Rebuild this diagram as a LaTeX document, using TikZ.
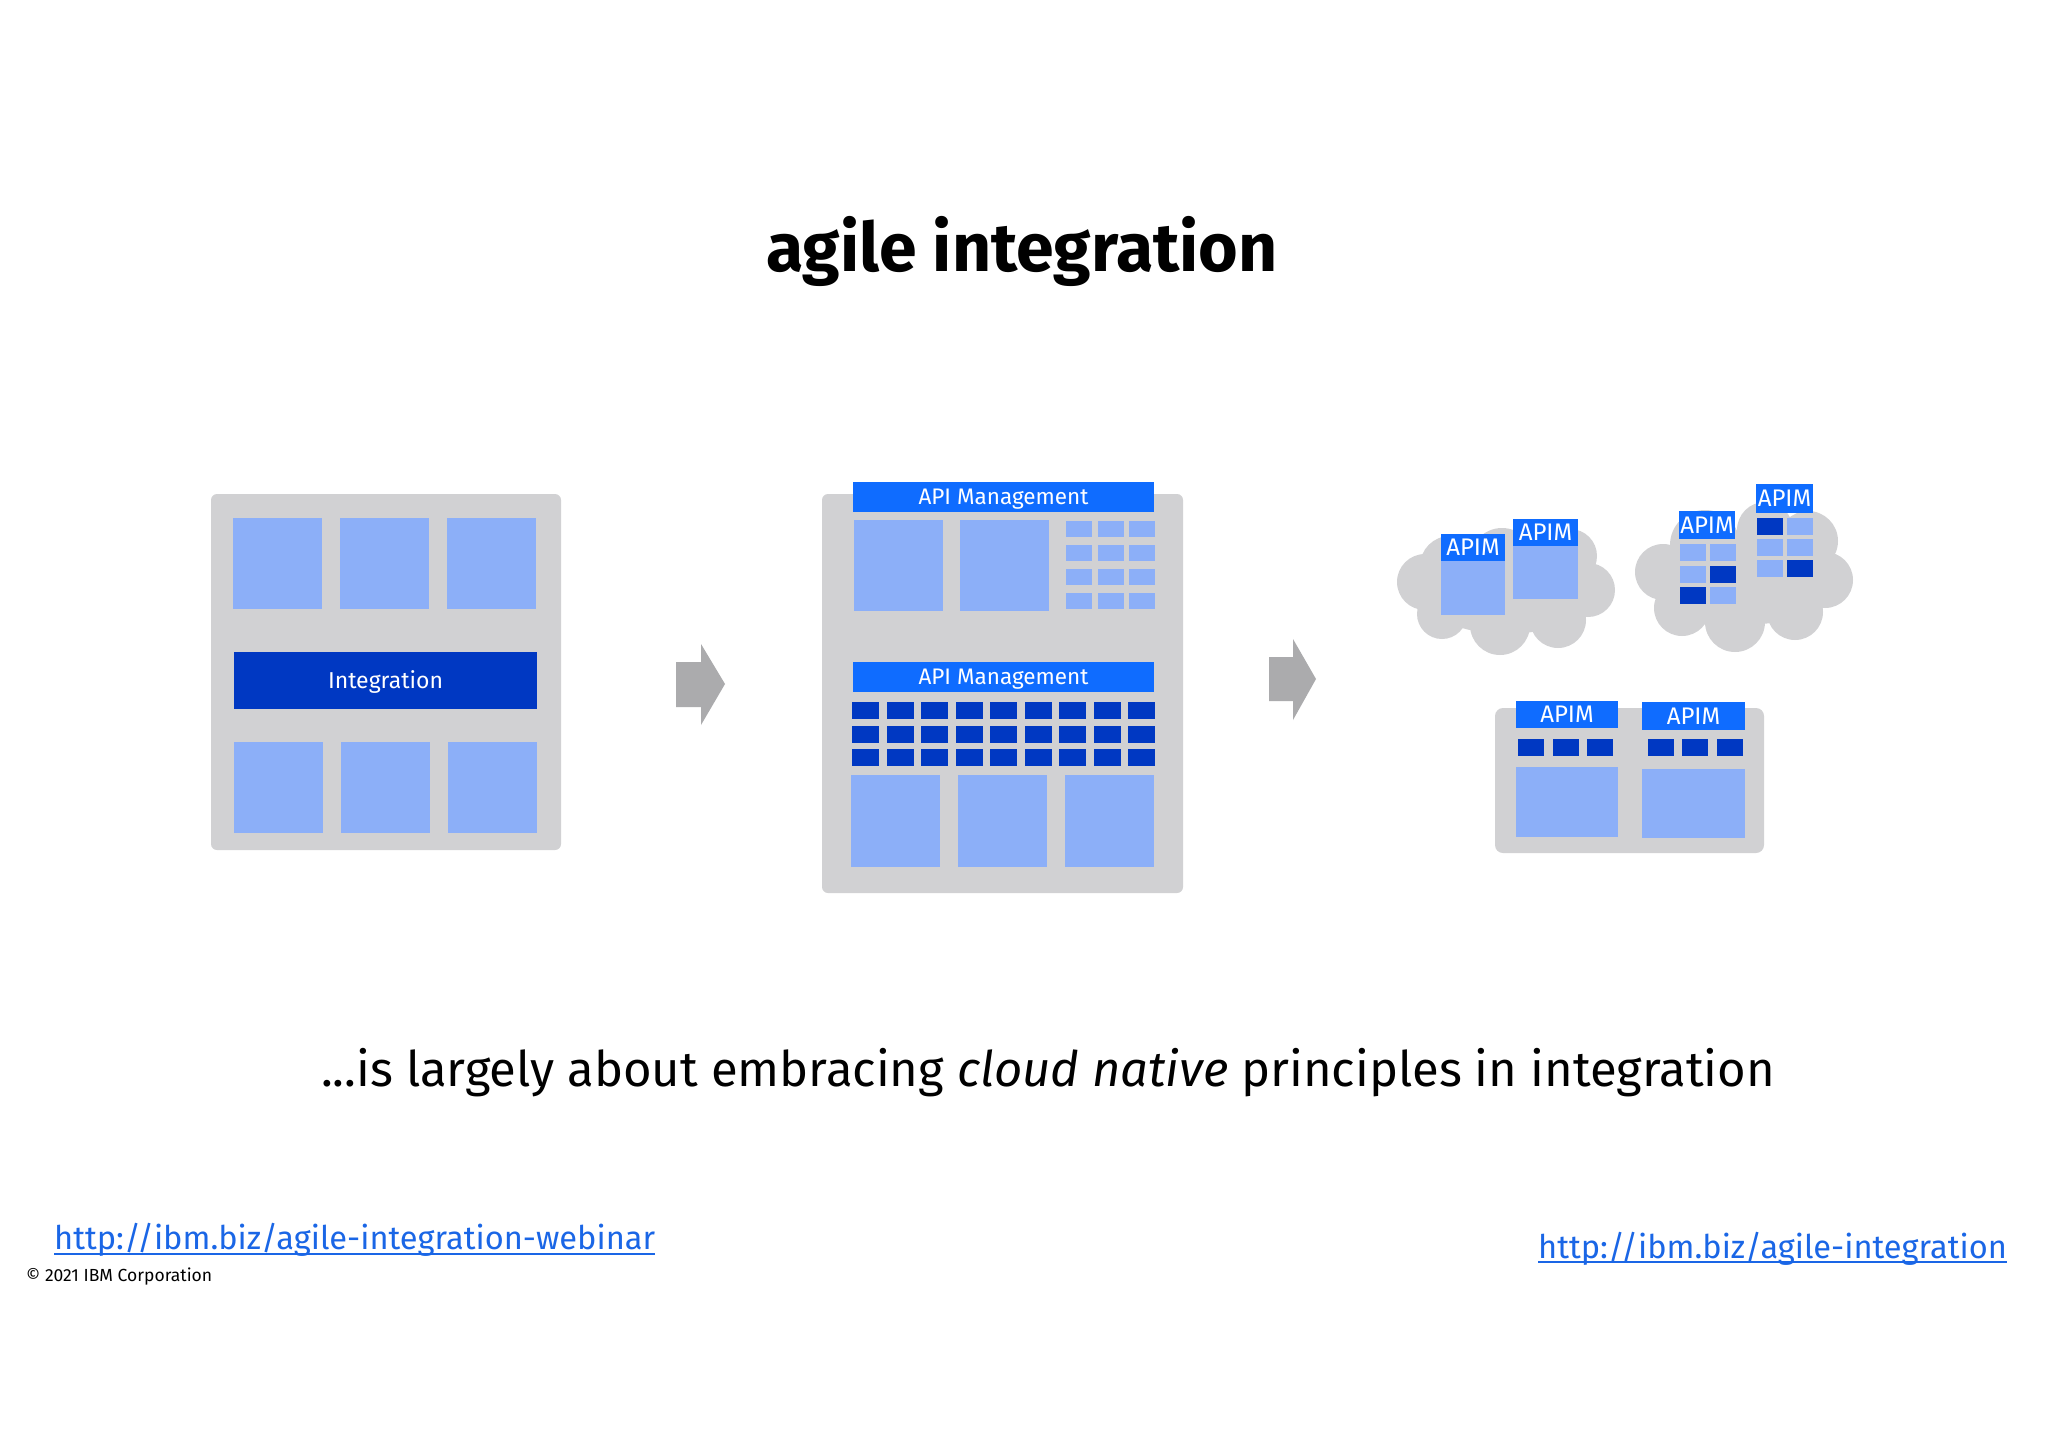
\documentclass[tikz,border=0pt]{standalone}
\usepackage{fontspec}
\setmainfont{Fira Sans}
\usetikzlibrary{positioning}
\definecolor{boxgrey}{HTML}{D1D1D3}
\definecolor{lightblue}{HTML}{8CAFF8}
\definecolor{darkblue}{HTML}{0038C2}
\definecolor{apiblue}{HTML}{0F6CFF}
\definecolor{arrowgrey}{HTML}{ABABAD}
\definecolor{linkblue}{HTML}{1A66E6}

\begin{document}
\begin{tikzpicture}[x=1pt,y=-1pt,
    bar/.style={fill=apiblue,text=white,inner sep=0pt,text height=15.5pt,text depth=0pt,font=\fontsize{22.5}{27}\selectfont},
    apim/.style={bar,text height=16.5pt,font=\fontsize{24}{28}\selectfont},
    link/.style={text=linkblue,inner sep=0pt,anchor=base west,font=\fontsize{32.6}{39}\selectfont}]
  \useasboundingbox[fill=white] (0,0) rectangle (2048,1448);

  % title
  \node[font=\fontsize{68}{80}\selectfont\bfseries,inner sep=0pt,anchor=base] (title) at (1022,271) {agile integration};

  % monolith
  \fill[boxgrey,rounded corners=6] (211,494) rectangle (561,850);
  \foreach \x in {233,340,447} {
    \fill[lightblue] (\x,518) rectangle ++(89,91);
    \fill[lightblue] (\x+1,742) rectangle ++(89,91);
  }
  \node[bar,fill=darkblue,minimum width=303,minimum height=57,text height=16pt,font=\fontsize{23}{28}\selectfont] (integ) at (385.5,680.5) {Integration};

  % arrows
  \fill[arrowgrey] (676,662) -- (701,662) -- (701,644) -- (725,684) -- (701,725) -- (701,707) -- (676,707) -- cycle;
  \fill[arrowgrey] (1269,657) -- (1293,657) -- (1293,639) -- (1316,679) -- (1293,720) -- (1293,701) -- (1269,701) -- cycle;

  % api management
  \fill[boxgrey,rounded corners=6] (822,494) rectangle (1183,893);
  \node[bar,minimum width=301,minimum height=30] (api1) at (1003.5,497) {API Management};
  \foreach \x in {854,960}
    \fill[lightblue] (\x,520) rectangle ++(89,91);
  \foreach \c in {0,1,2}
    \foreach \r in {0,1,2,3}
      \fill[lightblue] (1066+31.5*\c,521+24*\r) rectangle ++(26,16);
  \node[bar,minimum width=301,minimum height=30] (api2) at (1003.5,677) {API Management};
  \foreach \c in {0,...,8}
    \foreach \r in {0,1,2}
      \fill[darkblue] (852+34.5*\c,702+23.5*\r) rectangle ++(27,17);
  \foreach \x in {851,958,1065}
    \fill[lightblue] (\x,775) rectangle ++(89,92);

  % cloud 1
  \begin{scope}[boxgrey]
    \fill (1506,592) ellipse (85 and 42);
    \fill (1425,582) circle (28);
    \fill (1442,614) circle (25);
    \fill (1500,625) circle (30);
    \fill (1558,620) circle (28);
    \fill (1588,590) circle (27);
    \fill (1570,556) circle (27);
    \fill (1502,560) circle (32);
    \fill (1450,566) circle (30);
  \end{scope}
  \node[apim,minimum width=64,minimum height=27] (apim1) at (1473,547.5) {APIM};
  \fill[lightblue] (1441,561) rectangle (1505,615);
  \node[apim,minimum width=65,minimum height=27] (apim2) at (1545.5,532.5) {APIM};
  \fill[lightblue] (1513,546) rectangle (1578,599);

  % cloud 2
  \begin{scope}[boxgrey]
    \fill (1745,580) ellipse (85 and 45);
    \fill (1663,572) circle (28);
    \fill (1682,608) circle (28);
    \fill (1735,622) circle (30);
    \fill (1795,612) circle (28);
    \fill (1825,580) circle (28);
    \fill (1808,541) circle (30);
    \fill (1765,530) circle (28);
    \fill (1705,545) circle (35);
  \end{scope}
  \node[apim,minimum width=56,minimum height=28] (apim3) at (1707,525) {APIM};
  \foreach \x/\y/\col in {1680/544/lightblue,1710/544/lightblue,1680/566/lightblue,1710/566/darkblue,1680/587/darkblue,1710/587/lightblue}
    \fill[\col] (\x,\y) rectangle ++(26,17);
  \node[apim,minimum width=57,minimum height=29] (apim4) at (1784.5,498.5) {APIM};
  \foreach \x/\y/\col in {1757/518/darkblue,1787/518/lightblue,1757/539/lightblue,1787/539/lightblue,1757/560/lightblue,1787/560/darkblue}
    \fill[\col] (\x,\y) rectangle ++(26,17);

  % containers
  \fill[boxgrey,rounded corners=8] (1495,708) rectangle (1764,853);
  \node[apim,minimum width=102,minimum height=27] (apim5) at (1567,714.5) {APIM};
  \foreach \x in {1518,1553,1587}
    \fill[darkblue] (\x,739) rectangle ++(26,17);
  \fill[lightblue] (1516,767) rectangle (1618,837);
  \node[apim,minimum width=103,minimum height=28] (apim6) at (1693.5,716) {APIM};
  \foreach \x in {1648,1682,1717}
    \fill[darkblue] (\x,739) rectangle ++(26,17);
  \fill[lightblue] (1642,769) rectangle (1745,838);

  % text
  \node[font=\fontsize{49}{58}\selectfont,inner sep=0pt,anchor=base] (claim) at (1048,1086) {...is largely about embracing \textit{cloud native} principles in integration};
  \node[link] (web) at (54,1249) {http://ibm.biz/agile-integration-webinar};
  \draw[linkblue,line width=2] ([yshift=-5pt]web.base west) -- ([yshift=-5pt]web.base east);
  \node[link] (site) at (1538,1258) {http://ibm.biz/agile-integration};
  \draw[linkblue,line width=2] ([yshift=-4pt]site.base west) -- ([yshift=-4pt]site.base east);
  \node[inner sep=0pt,anchor=base west,font=\fontsize{17.5}{21}\selectfont] (copy) at (26,1281) {© 2021 IBM Corporation};
\end{tikzpicture}
\end{document}
